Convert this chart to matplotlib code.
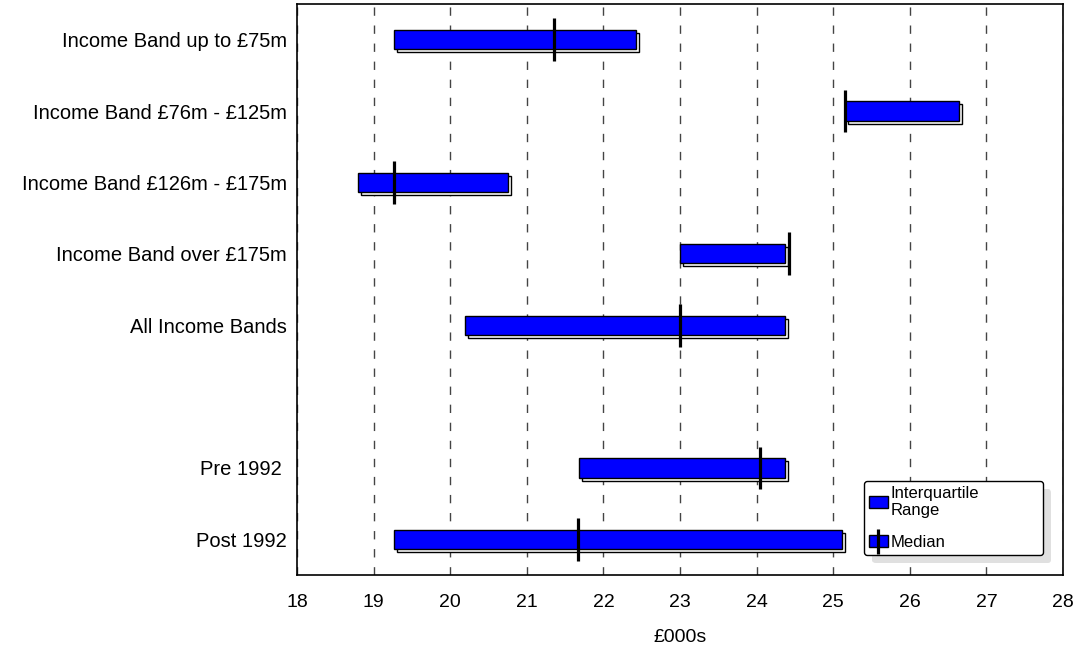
import numpy as np
import matplotlib.pyplot as plt
import matplotlib.patheffects as pe
from matplotlib.patches import Patch
from matplotlib.lines import Line2D
from matplotlib.legend_handler import HandlerTuple
from matplotlib.transforms import offset_copy

plt.rcParams['font.family'] = ['Liberation Sans', 'DejaVu Sans']

# Salary ranges (£000s) per group; row 5 is left empty as a separator
labels = ['Income Band up to £75m', 'Income Band £76m - £125m',
          'Income Band £126m - £175m', 'Income Band over £175m',
          'All Income Bands', '', 'Pre 1992 ', 'Post 1992']
rows = [0, 1, 2, 3, 4, 6, 7]
lower_q = [19.27, 25.15, 18.80, 23.00, 20.20, 21.68, 19.27]
upper_q = [22.43, 26.64, 20.76, 24.37, 24.37, 24.37, 25.12]
medians = [21.35, 25.15, 19.27, 24.42, 23.00, 24.04, 21.67]

fig = plt.figure(figsize=(10.81, 6.47), dpi=100)
ax = fig.add_axes([0.2747, 0.1113, 0.7087, 0.8825])

widths = np.array(upper_q) - np.array(lower_q)
bar_h = 0.27

# white offset box behind each bar
shadow = ax.barh(rows, widths, left=lower_q, height=bar_h, color='white',
                 edgecolor='black', linewidth=1, zorder=2)
shift = offset_copy(ax.transData, fig=fig, x=3, y=-3, units='dots')
for p in shadow:
    p.set_transform(shift)

ax.barh(rows, widths, left=lower_q, height=bar_h, color='#0000ff',
        edgecolor='black', linewidth=1, zorder=3)
ax.vlines(medians, np.array(rows) - 0.3, np.array(rows) + 0.3,
          color='black', linewidth=2.3, zorder=4)

ax.set_xlim(18, 28)
ax.set_ylim(7.5, -0.5)
ax.set_xticks(range(18, 29))
ax.set_yticks(range(len(labels)))
ax.set_yticklabels(labels, fontsize=14.5)
ax.tick_params(axis='both', length=0)
ax.tick_params(axis='x', labelsize=14, pad=14)
ax.tick_params(axis='y', pad=7)
ax.xaxis.grid(True, color='#444444', linestyle=(0, (6, 7)), linewidth=1)
ax.set_axisbelow(True)
for s in ax.spines.values():
    s.set_linewidth(1.2)
ax.set_xlabel('£000s', fontsize=14, labelpad=13)

iqr_handle = Patch(facecolor='#0000ff', edgecolor='black', linewidth=1)
med_handle = (Patch(facecolor='#0000ff', edgecolor='black', linewidth=1),
              Line2D([], [], marker='|', color='black', markersize=18,
                     markeredgewidth=2.3, linestyle='none'))
leg = ax.legend([iqr_handle, med_handle], ['Interquartile\nRange', 'Median'],
                handler_map={tuple: HandlerTuple(ndivide=1)},
                loc='lower left', bbox_to_anchor=(0.74, 0.035, 0.234, 0.13),
                mode='expand', fontsize=12, frameon=True, fancybox=True,
                framealpha=1, edgecolor='black', handlelength=1.15,
                handleheight=0.7, handletextpad=0.15, labelspacing=1.0,
                borderpad=0.3, borderaxespad=0)
leg.get_frame().set_linewidth(1)
leg.get_frame().set_path_effects([
    pe.SimplePatchShadow(offset=(6, -6), shadow_rgbFace='#e0e0e0', alpha=1),
    pe.Normal()])

fig.savefig('out.png', dpi=100)
